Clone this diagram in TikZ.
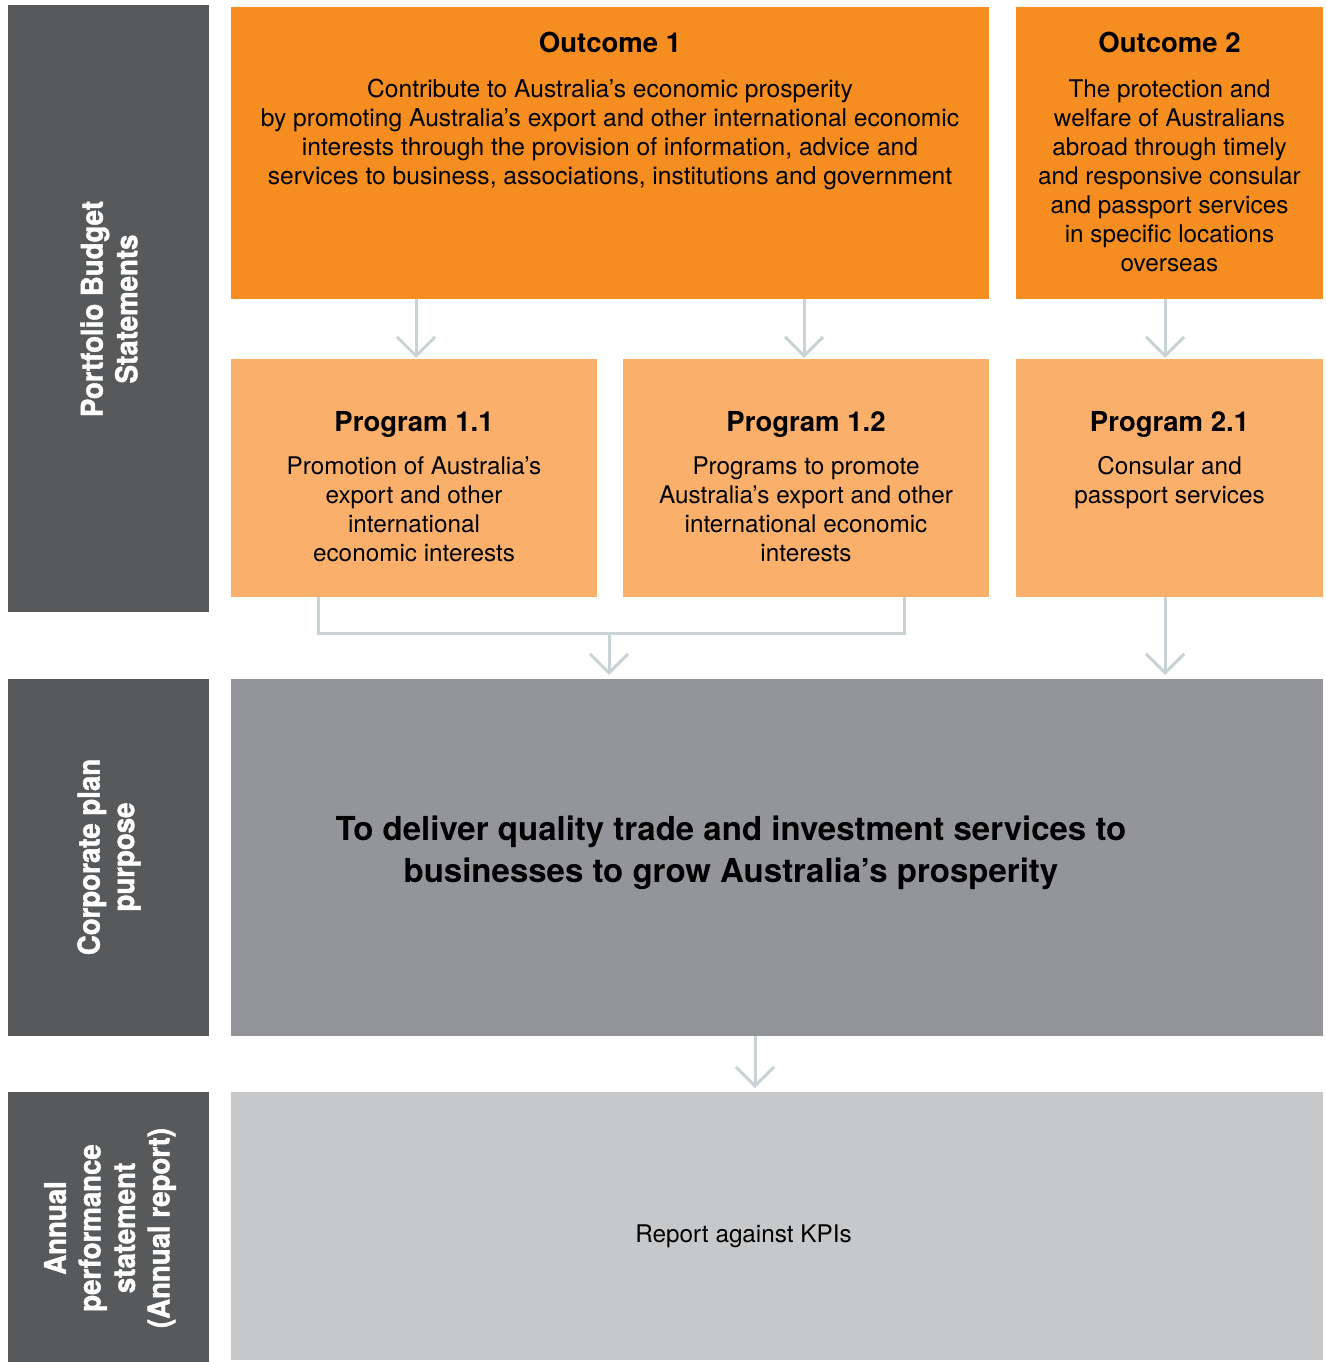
\documentclass[tikz,border=0pt]{standalone}
\usepackage{fontspec}
\setmainfont{TeX Gyre Heros}
\newfontface\sidefont{TeX Gyre Heros Bold}[FakeBold=1.5, FakeStretch=0.92]
\usetikzlibrary{arrows.meta}

\definecolor{sidegrey}{HTML}{58595B}
\definecolor{outorange}{HTML}{F68D20}
\definecolor{progorange}{HTML}{FAB06B}
\definecolor{purposegrey}{HTML}{949599}
\definecolor{reportgrey}{HTML}{C7C8CA}
\definecolor{linkgrey}{HTML}{C9D2D5}

\tikzset{
  panel/.style={draw=none, inner sep=0pt, outer sep=0pt, anchor=north west},
  sidelabel/.style={text=white, font=\sidefont\fontsize{30}{34.5}\selectfont,
    rotate=90, align=center, inner sep=0pt},
  boxtitle/.style={font=\fontsize{27.5}{33}\selectfont\bfseries, inner sep=0pt},
  boxbody/.style={font=\fontsize{24.3}{29}\selectfont, align=center, inner sep=0pt},
  link/.style={draw=linkgrey, line width=3pt},
  flow/.style={link, -{Straight Barb[length=19pt, width=38pt, line width=3pt]}},
}

\begin{document}
\begin{tikzpicture}[x=1pt, y=-1pt]
\useasboundingbox (0,0) rectangle (1325,1362);

% row labels on the left
\node[panel, fill=sidegrey, minimum width=201pt, minimum height=607pt] (pbsbox) at (8,5) {};
\node[panel, fill=sidegrey, minimum width=201pt, minimum height=357pt] (cpbox) at (8,679) {};
\node[panel, fill=sidegrey, minimum width=201pt, minimum height=270pt] (apsbox) at (8,1092) {};

\node[sidelabel] (pbslabel) at (109,309) {Portfolio Budget\\Statements};
\node[sidelabel] (cplabel) at (109,857) {Corporate plan\\purpose};
\node[sidelabel] (apslabel) at (110,1228) {Annual\\performance\\statement\\(Annual report)};

% outcomes
\node[panel, fill=outorange, minimum width=758pt, minimum height=292pt] (o1) at (231,7) {};
\node[panel, fill=outorange, minimum width=307pt, minimum height=292pt] (o2) at (1016,7) {};

\node[boxtitle] (o1title) at (610,42) {Outcome 1};
\node[boxbody, font=\fontsize{24.6}{29}\selectfont] (o1text) at (610,134) {Contribute to Australia’s economic prosperity\\
  by promoting Australia’s export and other international economic\\
  interests through the provision of information, advice and\\
  services to business, associations, institutions and government};

\node[boxtitle] (o2title) at (1169.5,42) {Outcome 2};
\node[boxbody] (o2text) at (1169.5,175.5) {The protection and\\welfare of Australians\\
  abroad through timely\\and responsive consular\\and passport services\\
  in specific locations\\overseas};

% programs
\node[panel, fill=progorange, minimum width=366pt, minimum height=238pt] (p11) at (231,359) {};
\node[panel, fill=progorange, minimum width=366pt, minimum height=238pt] (p12) at (623,359) {};
\node[panel, fill=progorange, minimum width=307pt, minimum height=238pt] (p21) at (1016,359) {};

\node[boxtitle] (p11title) at (414,424) {Program 1.1};
\node[boxbody] (p11text) at (414,509.5) {Promotion of Australia’s\\export and other\\
  international\\economic interests};

\node[boxtitle] (p12title) at (806,424) {Program 1.2};
\node[boxbody] (p12text) at (806,509.5) {Programs to promote\\
  Australia’s export and other\\international economic\\interests};

\node[boxtitle] (p21title) at (1169.5,424) {Program 2.1};
\node[boxbody] (p21text) at (1169.5,482.5) {Consular and\\passport services};

% corporate plan purpose
\node[panel, fill=purposegrey, minimum width=1092pt, minimum height=357pt] (purpose) at (231,679) {};
\node[font=\fontsize{33}{42}\selectfont\bfseries, align=center, inner sep=0pt] (purposetext)
  at (731,853) {To deliver quality trade and investment services to\\
  businesses to grow Australia’s prosperity};

% annual performance statement
\node[panel, fill=reportgrey, minimum width=1092pt, minimum height=268pt] (report) at (231,1092) {};
\node[boxbody] (reporttext) at (743.5,1236) {Report against KPIs};

% connectors: outcomes to programs
\coordinate (c11) at (416,0);
\coordinate (c12) at (804,0);
\coordinate (c21) at (1165,0);
\draw[flow, shorten >=1pt] (o1.south -| c11) -- (p11.north -| c11);
\draw[flow, shorten >=1pt] (o1.south -| c12) -- (p12.north -| c12);
\draw[flow, shorten >=1pt] (o2.south -| c21) -- (p21.north -| c21);

% connectors: programs to purpose
\coordinate (bl) at (318,633);
\coordinate (br) at (904,633);
\coordinate (join) at (609,633);
\draw[link] (p11.south -| bl) -- (bl) -- (br) -- (p12.south -| br);
\draw[flow, shorten >=4pt] (join) -- (purpose.north -| join);
\draw[flow, shorten >=4pt] (p21.south -| c21) -- (purpose.north -| c21);

% connector: purpose to report
\coordinate (c3) at (755,0);
\draw[flow, shorten >=4pt] (purpose.south -| c3) -- (report.north -| c3);
\end{tikzpicture}
\end{document}
